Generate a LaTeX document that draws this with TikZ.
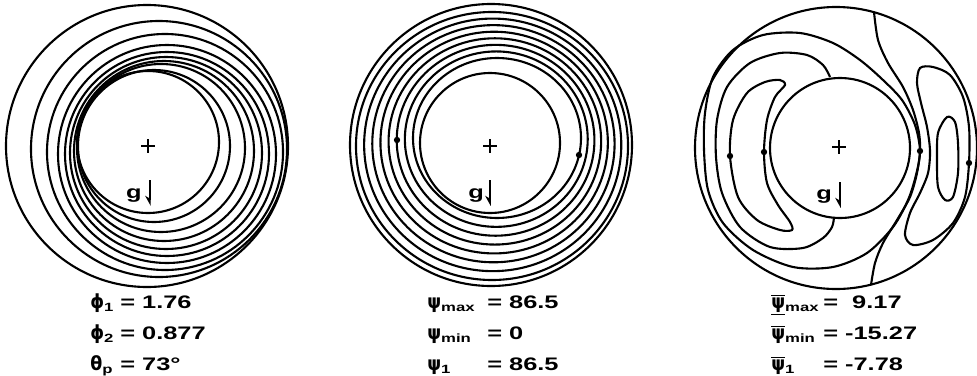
\documentclass[tikz,border=0pt]{standalone}
\usepackage{fontspec}
\newfontfamily\capfont{Liberation Sans}[FakeStretch=1.4]
\newfontfamily\grfont{DejaVu Sans}[FakeStretch=0.9]
\usetikzlibrary{arrows.meta}
\newcommand\gr[1]{{\grfont\bfseries\fontsize{13.8}{15}\selectfont #1}}
\newcommand\lowsub[1]{\raisebox{-2.8pt}{\fontsize{8.5}{9}\selectfont #1}}
\newcommand\psibar{$\overline{\hbox{\gr{ψ}}}$}

\begin{document}
\begin{tikzpicture}[x=0.025cm,y=-0.025cm,
  contour/.style={draw=black,line width=1.5pt},
  cyl/.style={draw=black,line width=1.5pt},
  stagdot/.style={circle,fill=black,inner sep=0pt,minimum size=4.5pt},
  caption/.style={font=\capfont\bfseries\fontsize{12.9}{15}\selectfont,anchor=base west,inner sep=0pt},
  gee/.style={font=\capfont\bfseries\fontsize{12.9}{15}\selectfont,anchor=base,inner sep=0pt},
  gravity/.style={-{Stealth[right,length=2.2mm,width=2.4mm]},line width=1.2pt},
  cross/.style={draw=black,line width=1.1pt}
]
\useasboundingbox (0,0) rectangle (977,375);

% left: eccentric streamlines
\draw[contour] (147,146) circle[radius=141];
\draw[cyl] (148,142) circle[radius=71];
\foreach \cx/\cy/\r in {154/146/76,161/148/84,164/151/90,166/153/96,
    167/154/102,167/154/109,165/152/118,159/149/128}
  \draw[contour] (\cx,\cy) circle[radius=\r];
\draw[cross] (141,146) -- (155,146) (148,139) -- (148,153);
\node[gee] (gleft) at (134,198) {g};
\draw[gravity] (150,180) -- (150,206);

% middle: nearly concentric streamlines
\draw[contour] (491,145) circle[radius=141];
\draw[cyl] (490,143) circle[radius=70];
\foreach \k in {0,...,7}
  \draw[contour] ({497-5*\k/7},{138+8*\k/7})
    ellipse[x radius={84+52*\k/7},y radius={80+54*\k/7}];
\node[stagdot] (dotml) at (397,140) {};
\node[stagdot] (dotmr) at (579,155) {};
\draw[cross] (483,146) -- (497,146) (490,139) -- (490,153);
\node[gee] (gmid) at (476,198) {g};
\draw[gravity] (490,180) -- (490,206);

% right: perturbation streamlines
\draw[contour] (836,148) circle[radius=141];
\draw[cyl] (840,148) circle[radius=70];
\draw[contour] plot[smooth] coordinates {(874,12) (878,40) (888,63) (903,87)
  (913,110) (919,133) (920,151) (917,173) (910,197) (897,220) (883,243) (875,263) (871,285)};
\draw[contour] plot[smooth] coordinates {(830,77) (823,65) (807,55) (780,53) (750,63)
  (727,87) (717,120) (716,157) (722,193) (740,227) (770,247) (803,248) (823,238) (832,227) (834,217)};
\draw[contour] plot[smooth cycle] coordinates {(785,85) (775,97) (767,120) (764,152)
  (767,183) (778,205) (790,222) (792,230) (780,230) (757,220) (738,197) (730,156)
  (733,120) (747,93) (765,82) (780,80)};
\draw[contour] plot[smooth cycle] coordinates {(920,151) (915,125) (902,100) (883,80)
  (860,60) (833,43) (800,33) (763,35) (733,50) (713,77) (705,113) (704,150) (708,190)
  (723,223) (753,250) (793,267) (833,267) (867,253) (893,227) (908,200) (916,175)};
\draw[contour] plot[smooth cycle] coordinates {(920,68) (933,67) (950,75) (963,97)
  (969,127) (969,163) (965,197) (953,223) (933,240) (913,245) (905,235) (910,213)
  (920,193) (928,173) (930,151) (927,127) (921,103) (917,83)};
\draw[contour] plot[smooth cycle] coordinates {(947,117) (955,122) (958,143) (958,173)
  (953,197) (945,200) (938,187) (937,160) (938,133)};
\node[stagdot] (dotra) at (730,156) {};
\node[stagdot] (dotrb) at (764,152) {};
\node[stagdot] (dotrc) at (920,151) {};
\node[stagdot] (dotrd) at (969,163) {};
\draw[cross] (832,147) -- (846,147) (839,140) -- (839,154);
\node[gee] (gright) at (824,199) {g};
\draw[gravity] (840,182) -- (840,208);

% captions
\node[caption] (phione) at (90,308) {\gr{ϕ}\lowsub{1}};
\node[caption] (phioneval) at (120,308) {= 1.76};
\node[caption] (phitwo) at (90,339) {\gr{ϕ}\lowsub{2}};
\node[caption] (phitwoval) at (120,339) {= 0.877};
\node[caption] (thetap) at (90,370) {\gr{θ}\lowsub{p}};
\node[caption] (thetapval) at (120,370) {= 73°};

\node[caption] (psimax) at (427,308) {\gr{ψ}\lowsub{max}};
\node[caption] (psimaxval) at (487,308) {= 86.5};
\node[caption] (psimin) at (427,339) {\gr{ψ}\lowsub{min}};
\node[caption] (psiminval) at (487,339) {= 0};
\node[caption] (psione) at (427,370) {\gr{ψ}\lowsub{1}};
\node[caption] (psioneval) at (487,370) {= 86.5};

\node[caption] (barmax) at (771,308) {$\underline{\hbox{\psibar}}$\lowsub{max}};
\node[caption] (barmaxval) at (823,308) {=\ \ 9.17};
\node[caption] (barmin) at (771,339) {\psibar\lowsub{min}};
\node[caption] (barminval) at (823,339) {= -15.27};
\node[caption] (barone) at (771,370) {\psibar\lowsub{1}};
\node[caption] (baroneval) at (823,370) {= -7.78};
\end{tikzpicture}
\end{document}
